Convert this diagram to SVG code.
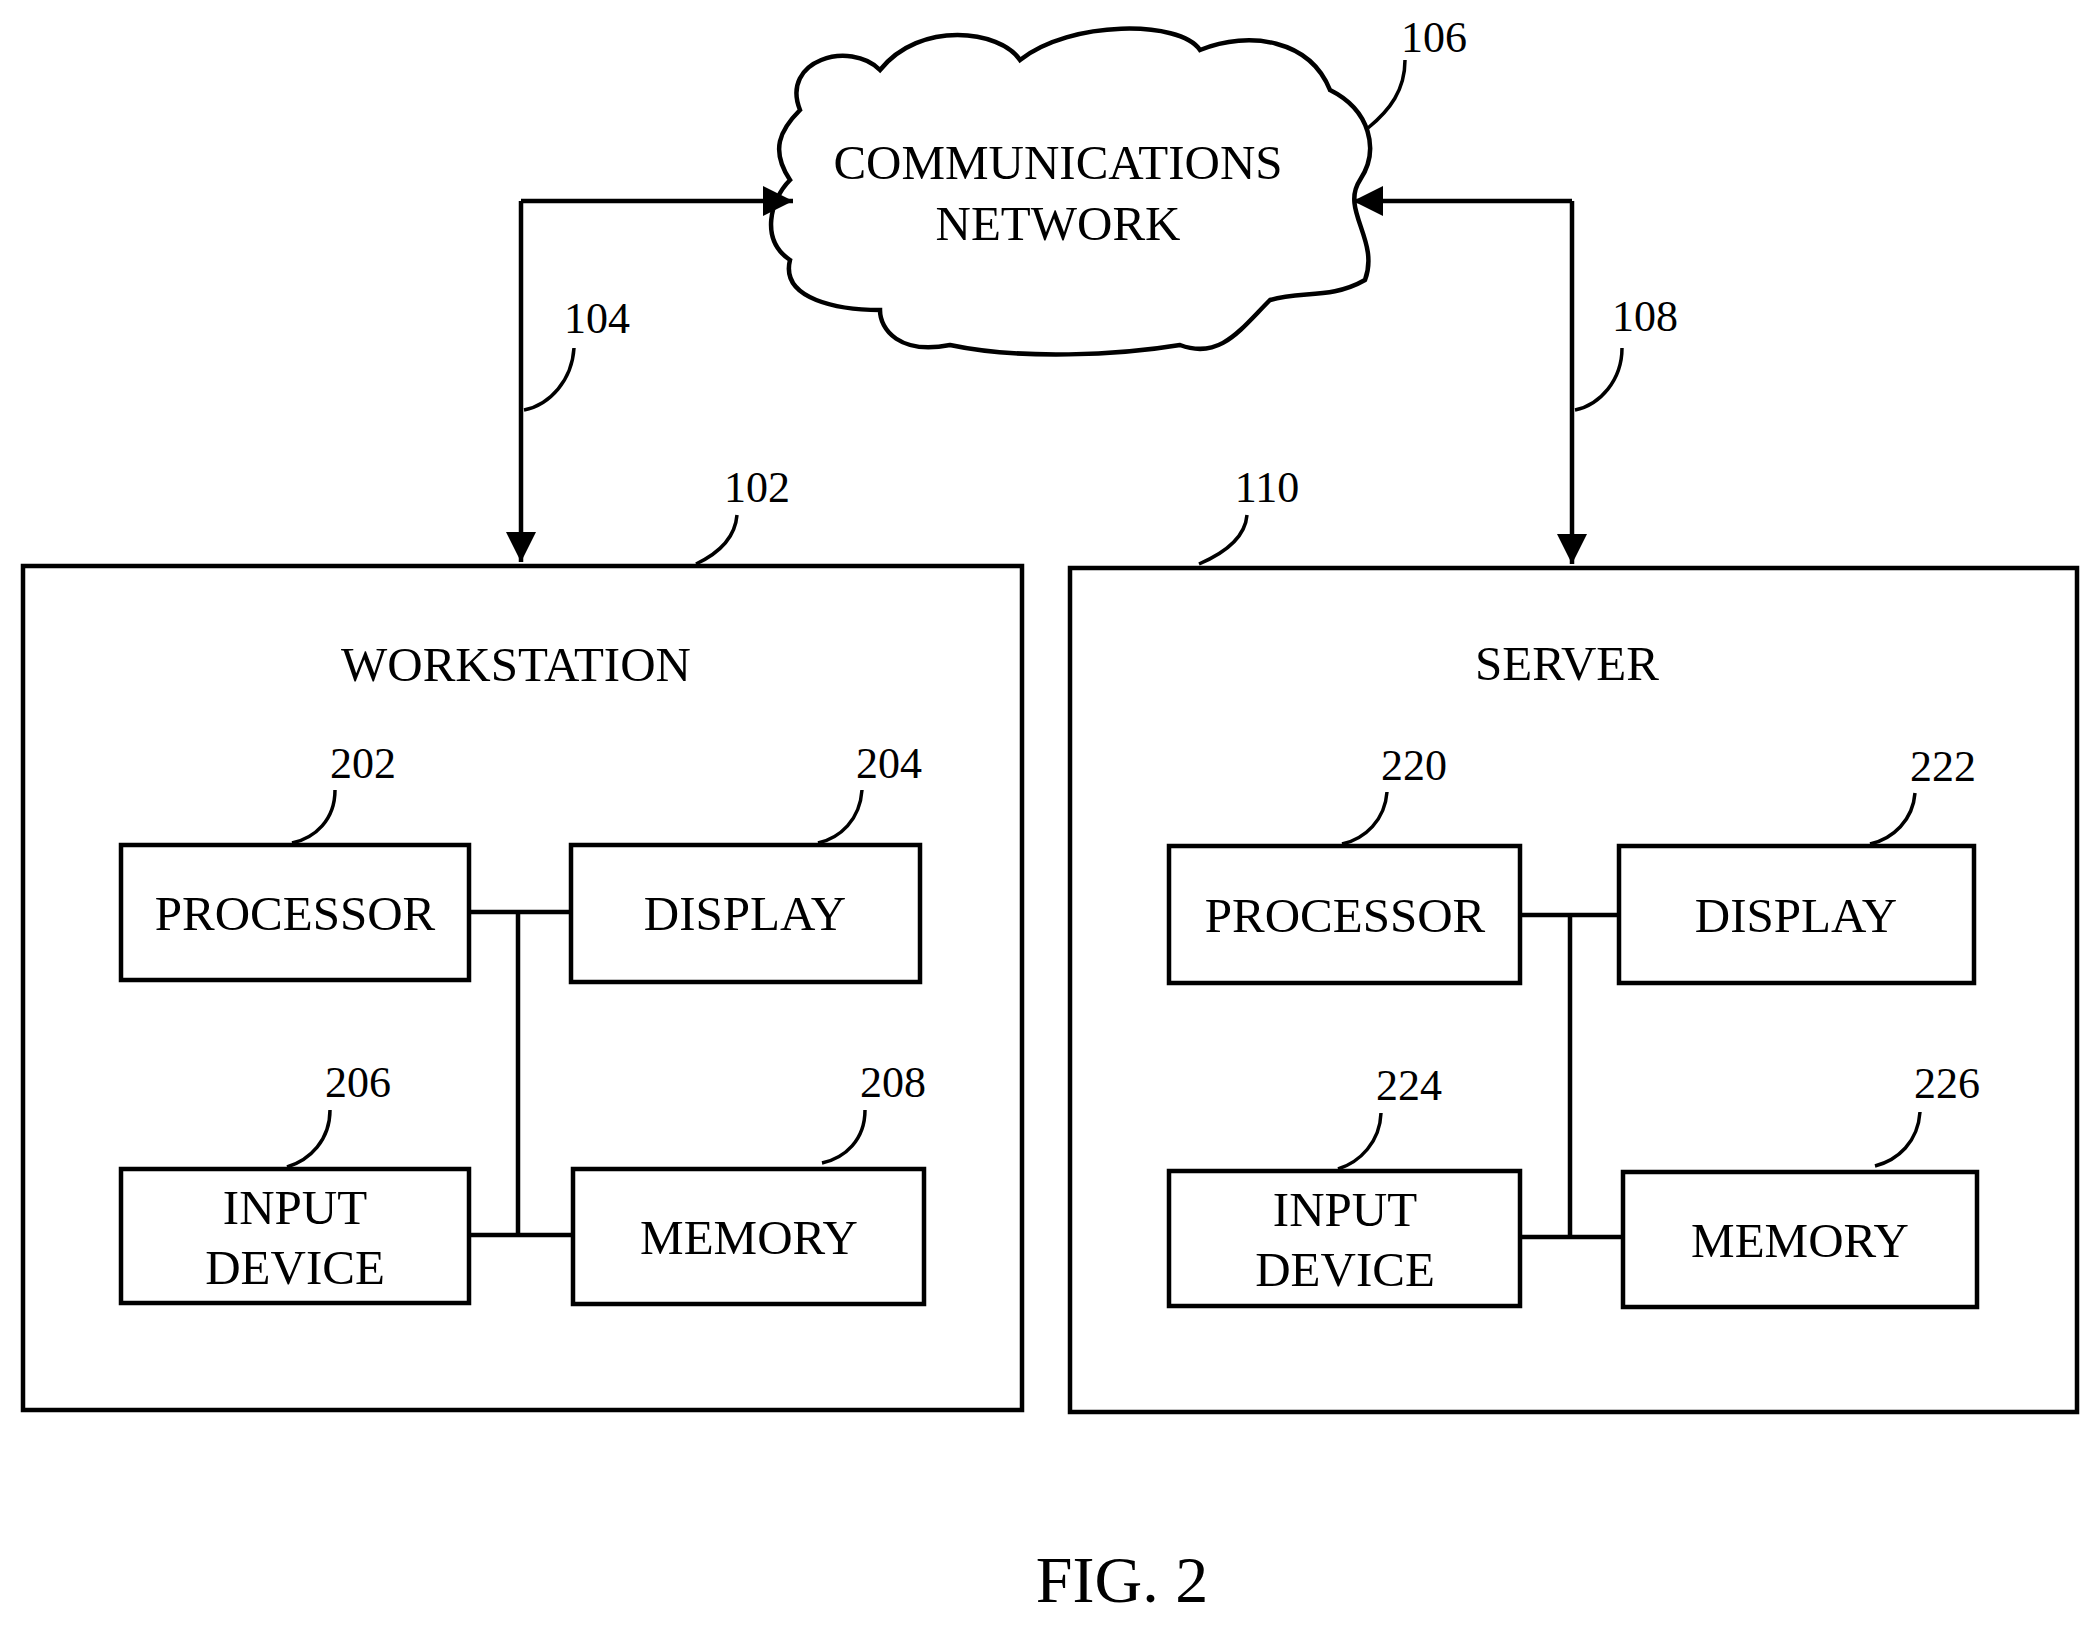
<svg xmlns="http://www.w3.org/2000/svg" width="2100" height="1629" viewBox="0 0 2100 1629">
<style>
.b{fill:none;stroke:#000;stroke-width:4.5}
.l{fill:none;stroke:#000;stroke-width:3.5}
.t{font-family:"Liberation Serif",serif;font-size:49px;text-anchor:middle}
.n{font-family:"Liberation Serif",serif;font-size:44px;text-anchor:middle}
</style>
<defs>
<marker id="A" viewBox="0 0 10 10" refX="10" refY="5" markerWidth="40" markerHeight="30" orient="auto" markerUnits="userSpaceOnUse"><path d="M0,0 L10,5 L0,10Z"/></marker></defs>
<g id="network">
<path class="b" d="M 800,110 C 780,60 850,40 880,70 C 920,20 1000,30 1020,60 C 1070,20 1180,20 1200,50 C 1250,30 1310,40 1330,90 C 1370,110 1380,150 1360,180 C 1340,210 1380,240 1365,280 C 1330,300 1300,290 1270,300 C 1240,330 1220,360 1180,345 C 1120,355 1020,360 950,345 C 900,355 880,330 880,310 C 840,310 780,300 790,260 C 760,240 770,200 790,180 C 770,150 780,130 800,110 Z"/>
<text class="t" x="1058" y="179">COMMUNICATIONS</text>
<text class="t" x="1058" y="240">NETWORK</text>
<text class="n" x="1434" y="52">106</text>
<path class="l" d="M1368,128 C1390,110 1405,90 1405,60"/>
</g>
<g id="workstation">
<rect class="b" x="23" y="566" width="999" height="844"/>
<text class="t" x="516" y="681">WORKSTATION</text>
<text class="n" x="757" y="502">102</text>
<path class="l" d="M696,564 C715,555 735,540 737,515"/>
</g>
<g id="server">
<rect class="b" x="1070" y="568" width="1007" height="844"/>
<text class="t" x="1567" y="680">SERVER</text>
<text class="n" x="1267" y="502">110</text>
<path class="l" d="M1199,564 C1220,555 1245,540 1247,515"/>
</g>
<g id="w202"><rect class="b" x="121" y="845" width="348" height="135"/><text class="t" x="295" y="930">PROCESSOR</text><text class="n" x="363" y="778">202</text><path class="l" d="M292,843 C315,838 335,820 335,790"/></g>
<g id="w204"><rect class="b" x="571" y="845" width="349" height="137"/><text class="t" x="745" y="930">DISPLAY</text><text class="n" x="889" y="778">204</text><path class="l" d="M818,843 C840,838 860,820 862,790"/></g>
<g id="w206"><rect class="b" x="121" y="1169" width="348" height="134"/><text class="t" x="295" y="1224">INPUT</text><text class="t" x="295" y="1284">DEVICE</text><text class="n" x="358" y="1097">206</text><path class="l" d="M287,1167 C310,1160 330,1140 330,1110"/></g>
<g id="w208"><rect class="b" x="573" y="1169" width="351" height="135"/><text class="t" x="749" y="1254">MEMORY</text><text class="n" x="893" y="1097">208</text><path class="l" d="M822,1163 C845,1158 865,1140 865,1110"/></g>
<g id="s220"><rect class="b" x="1169" y="846" width="351" height="137"/><text class="t" x="1345" y="932">PROCESSOR</text><text class="n" x="1414" y="780">220</text><path class="l" d="M1342,844 C1365,839 1385,820 1387,792"/></g>
<g id="s222"><rect class="b" x="1619" y="846" width="355" height="137"/><text class="t" x="1796" y="932">DISPLAY</text><text class="n" x="1943" y="781">222</text><path class="l" d="M1870,844 C1893,839 1913,820 1915,793"/></g>
<g id="s224"><rect class="b" x="1169" y="1171" width="351" height="135"/><text class="t" x="1345" y="1226">INPUT</text><text class="t" x="1345" y="1286">DEVICE</text><text class="n" x="1409" y="1100">224</text><path class="l" d="M1338,1169 C1360,1162 1380,1142 1381,1113"/></g>
<g id="s226"><rect class="b" x="1623" y="1172" width="354" height="135"/><text class="t" x="1800" y="1257">MEMORY</text><text class="n" x="1947" y="1098">226</text><path class="l" d="M1875,1166 C1898,1160 1918,1142 1920,1112"/></g>
<g id="connectors">
<path class="b" d="M469,912 H571 M518,912 V1235 M469,1235 H573"/>
<path class="b" d="M1520,915 H1619 M1570,915 V1237 M1520,1237 H1623"/>
<path class="b" d="M521,201 V562" marker-end="url(#A)"/>
<path class="b" d="M521,201 H793" marker-end="url(#A)"/>
<path class="b" d="M1572,201 V564" marker-end="url(#A)"/>
<path class="b" d="M1572,201 H1353" marker-end="url(#A)"/>
<text class="n" x="597" y="333">104</text>
<path class="l" d="M524,410 C550,405 572,380 574,348"/>
<text class="n" x="1645" y="331">108</text>
<path class="l" d="M1575,410 C1600,405 1622,380 1622,348"/>
</g>
<text x="1122" y="1602" style="font-family:'Liberation Serif',serif;font-size:66px;text-anchor:middle">FIG. 2</text>
</svg>
